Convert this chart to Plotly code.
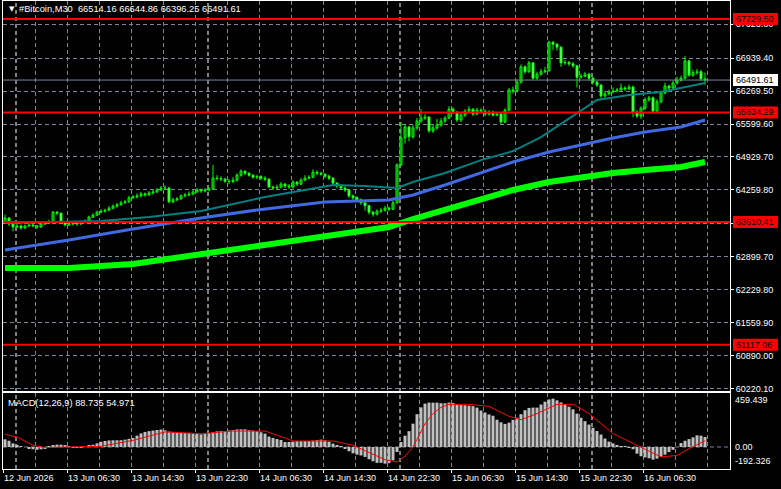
import plotly.graph_objects as go

# ---------------- data ----------------
OPEN = [63620,63690,63570,63510,63530,63490,63530,63550,63530,63510,
        63570,63590,63610,63810,63790,63610,63550,63570,63590,63570,
        63610,63630,63710,63750,63810,63830,63850,63890,63930,63960,
        64000,64020,64100,64120,64140,64180,64160,64200,64220,64260,
        64300,64300,64020,64060,64080,64140,64160,64180,64220,64260,
        64240,64260,64280,64500,64490,64480,64440,64430,64460,64560,
        64640,64600,64560,64520,64530,64500,64480,64320,64300,64320,
        64380,64340,64320,64420,64380,64460,64500,64520,64620,64600,
        64580,64540,64500,64400,64340,64300,64260,64140,64100,64060,
        64000,63940,63810,63770,63830,63850,63890,63870,64000,64770,
        65320,65540,65340,65520,65660,65720,65740,65460,65520,65580,
        65660,65720,65900,65840,65680,65780,65860,65900,65800,65880,
        65860,65800,65840,65780,65800,65640,65880,66290,66270,66450,
        66760,66660,66840,66530,66610,66660,66680,67260,67220,67160,
        66840,66850,66820,66780,66550,66570,66610,66530,66450,66390,
        66170,66210,66250,66270,66290,66330,66310,66350,65840,65760,
        65920,66090,66130,65860,66050,66230,66370,66330,66430,66490,
        66530,66880,66590,66640,66660,66514.16]
HIGH = [63760,63710,63600,63570,63560,63560,63590,63580,63550,63600,
        63620,63660,63830,63830,63800,63630,63600,63620,63610,63640,
        63660,63740,63790,63840,63870,63880,63930,63970,64000,64040,
        64060,64140,64160,64190,64220,64210,64240,64260,64300,64340,
        64350,64320,64100,64120,64170,64200,64230,64260,64300,64290,
        64300,64320,64770,64560,64540,64510,64480,64520,64600,64680,
        64660,64620,64580,64570,64560,64540,64500,64350,64370,64420,
        64400,64380,64460,64440,64500,64560,64560,64680,64660,64630,
        64600,64570,64520,64420,64370,64330,64280,64170,64140,64090,
        64020,63960,63830,63870,63900,63940,63920,64040,64800,65640,
        65600,65560,65580,65720,65900,65800,65760,65580,65700,65720,
        65760,65960,65940,65860,65820,65900,65960,65920,65930,65920,
        65900,65880,65870,65840,65820,65920,66330,66360,66500,66810,
        66790,66880,66860,66660,66720,66760,67290,67280,67240,67180,
        66900,66880,66860,66800,66620,66660,66640,66560,66480,66410,
        66260,66300,66340,66330,66420,66370,66400,66380,65880,65960,
        66140,66170,66160,66100,66280,66440,66400,66480,66560,66580,
        66980,66900,66700,66720,66700,66644.86]
LOW = [63580,63530,63420,63480,63450,63470,63510,63500,63470,63490,
       63550,63570,63590,63750,63580,63520,63530,63540,63530,63550,
       63590,63610,63690,63730,63790,63800,63830,63870,63900,63940,
       63980,64000,64080,64090,64110,64120,64140,64170,64200,64240,
       64270,63990,63990,64030,64060,64110,64130,64150,64200,64200,
       64210,64230,64260,64450,64440,64400,64380,64400,64430,64530,
       64560,64530,64490,64480,64460,64440,64300,64260,64270,64290,
       64300,64280,64290,64340,64360,64440,64480,64500,64560,64550,
       64500,64460,64370,64300,64260,64220,64100,64060,64020,63960,
       63840,63760,63720,63740,63790,63820,63830,63850,63980,64740,
       65200,65250,65300,65480,65620,65680,65420,65420,65480,65540,
       65620,65700,65800,65640,65640,65740,65820,65760,65780,65820,
       65760,65770,65750,65760,65600,65620,65860,66220,66240,66420,
       66620,66640,66500,66500,66580,66630,66660,67100,67090,66760,
       66800,66780,66740,66340,66520,66550,66480,66400,66350,66120,
       66130,66180,66220,66240,66260,66270,66290,65740,65720,65700,
       65880,66050,65820,65840,66020,66200,66290,66300,66400,66460,
       66500,66560,66560,66600,66480,66396.25]
CLOSE = [63690,63570,63510,63530,63490,63530,63550,63530,63510,63570,
         63590,63610,63810,63790,63610,63550,63570,63590,63570,63610,
         63630,63710,63750,63810,63830,63850,63890,63930,63960,64000,
         64020,64100,64120,64140,64180,64160,64200,64220,64260,64300,
         64300,64020,64060,64080,64140,64160,64180,64220,64260,64240,
         64260,64280,64500,64490,64480,64440,64430,64460,64560,64640,
         64600,64560,64520,64530,64500,64480,64320,64300,64320,64380,
         64340,64320,64420,64380,64460,64500,64520,64620,64600,64580,
         64540,64500,64400,64340,64300,64260,64140,64100,64060,64000,
         63940,63810,63770,63830,63850,63890,63870,64000,64770,65320,
         65540,65340,65520,65660,65720,65740,65460,65520,65580,65660,
         65720,65900,65840,65680,65780,65860,65900,65800,65880,65860,
         65800,65840,65780,65800,65640,65880,66290,66270,66450,66760,
         66660,66840,66530,66610,66660,66680,67260,67220,67160,66840,
         66850,66820,66780,66550,66570,66610,66530,66450,66390,66170,
         66210,66250,66270,66290,66330,66310,66350,65840,65760,65920,
         66090,66130,65860,66050,66230,66370,66330,66430,66490,66530,
         66880,66590,66640,66660,66514.16,66491.61]

# moving averages (value at selected bars)
MA_FAST_BARS = [0, 24, 36, 49, 65, 82, 90, 98, 102, 110, 119, 127, 134, 143, 148, 156, 164, 175]
MA_FAST = [63590, 63630, 63712, 63834, 64118, 64361, 64341, 64300, 64423, 64605, 64867, 65050,
           65335, 65823, 66087, 66188, 66249, 66432]
MA_MID_BARS = [0, 16, 32, 49, 63, 80, 96, 102, 110, 119, 127, 136, 144, 152, 160, 169, 175]
MA_MID = [63042, 63245, 63468, 63691, 63854, 64016, 64057, 64158, 64361, 64605, 64828, 65031,
          65173, 65315, 65437, 65538, 65681]
MA_SLOW_BARS = [0, 16, 32, 49, 63, 80, 96, 102, 110, 119, 127, 136, 144, 152, 160, 169, 175]
MA_SLOW = [62676, 62676, 62758, 62960, 63143, 63346, 63509, 63671, 63854, 64057, 64260, 64422,
           64524, 64605, 64666, 64727, 64828]

MACD_HIST = [68,55,32,12,5,0,-10,-20,-24,-20,
             -12,5,16,21,20,9,2,-4,-8,-7,
             0,12,20,32,46,53,58,59,59,60,
             65,72,80,100,120,133,140,145,150,155,
             147,136,133,130,126,124,124,120,115,112,
             118,123,130,138,141,141,146,150,155,156,
             156,149,144,138,130,118,92,80,70,62,
             44,44,48,52,53,53,53,56,61,65,
             59,48,30,18,2,-15,-38,-56,-68,-75,
             -88,-108,-126,-140,-140,-147,-143,-118,-44,44,
             100,140,206,290,350,383,392,392,392,387,
             386,392,389,377,370,368,365,360,348,322,
             305,288,276,241,218,204,215,240,259,290,
             325,345,348,348,375,400,420,427,412,394,
             376,356,333,295,258,228,198,170,141,110,
             75,48,32,15,7,2,-5,-20,-59,-82,
             -92,-100,-112,-103,-86,-68,-45,-25,0,35,
             55,70,85,103,100,88.735]
SIGNAL_BARS = [0, 3, 7, 10, 16, 24, 32, 40, 49, 57, 65, 72, 82, 87, 95, 98, 100, 102, 105, 107,
               109, 111, 116, 121, 126, 129, 133, 138, 142, 146, 152, 159, 164, 168, 171, 175]
SIGNAL = [112, 88, 15, -6, 0, 6, 59, 133, 118, 141, 141, 53, 53, 15, -112, -133, -80, 0, 206, 295,
          350, 377, 377, 359, 271, 241, 295, 377, 377, 295, 118, 0, -88, -74, -15, 54.971]

LEVELS = [67729.50, 65834.29, 63610.41, 61117.06]
LAST_PRICE = 66491.61
PRICE_TICKS = [60220.10, 60890.00, 61559.90, 62229.80, 62899.70, 63579.75, 64259.80,
               64929.70, 65599.60, 66269.50, 66939.40, 67623.80]
PRICE_TICK_TEXT = ["60220.10", "60890.00", "61559.90", "62229.80", "62899.70", "", "64259.80",
                   "64929.70", "65599.60", "66269.50", "66939.40", "67623.80"]
MACD_TICKS = [459.439, 0.0, -192.326]
MACD_TICK_TEXT = ["459.439", "0.00", "-192.326"]
X_LABEL_BARS = [0, 16, 32, 48, 64, 80, 96, 112, 128, 144, 160]
X_LABELS = ["12 Jun 2026", "13 Jun 06:30", "13 Jun 14:30", "13 Jun 22:30", "14 Jun 06:30",
            "14 Jun 14:30", "14 Jun 22:30", "15 Jun 06:30", "15 Jun 14:30", "15 Jun 22:30",
            "16 Jun 06:30"]
DAY_START_BARS = [3, 51, 99, 147]
TITLE = "#Bitcoin,M30  66514.16 66644.86 66396.25 66491.61"
MACD_TITLE = "MACD(12,26,9) 88.735 54.971"

# ---------------- styling ----------------
FONT = "Liberation Sans, Arial, sans-serif"
GRID = "rgb(119,136,153)"
DASH = "4px,3px"
LIME = "#00FF00"
bars = list(range(len(CLOSE)))

fig = go.Figure()

# candle wicks
wx, wy = [], []
for i, (h, l) in enumerate(zip(HIGH, LOW)):
    wx += [i, i, None]
    wy += [l, h, None]
fig.add_trace(go.Scatter(x=wx, y=wy, mode="lines", line=dict(color=LIME, width=1),
                         xaxis="x", yaxis="y", hoverinfo="skip", connectgaps=False))
# candle bodies (bull = black body, bear = white body, lime outline)
body_base = [min(o, c) for o, c in zip(OPEN, CLOSE)]
body_len = [abs(c - o) for o, c in zip(OPEN, CLOSE)]
body_fill = ["#000000" if c >= o else "#FFFFFF" for o, c in zip(OPEN, CLOSE)]
fig.add_trace(go.Bar(x=bars, y=body_len, base=body_base, width=0.5,
                     marker=dict(color=body_fill, line=dict(color=LIME, width=1)),
                     xaxis="x", yaxis="y", hoverinfo="skip"))

fig.add_trace(go.Scatter(x=MA_SLOW_BARS, y=MA_SLOW, mode="lines",
                         line=dict(color=LIME, width=6), xaxis="x", yaxis="y", hoverinfo="skip"))
fig.add_trace(go.Scatter(x=MA_MID_BARS, y=MA_MID, mode="lines",
                         line=dict(color="#4169E1", width=3), xaxis="x", yaxis="y", hoverinfo="skip"))
fig.add_trace(go.Scatter(x=MA_FAST_BARS, y=MA_FAST, mode="lines",
                         line=dict(color="#008080", width=2), xaxis="x", yaxis="y", hoverinfo="skip"))
fig.add_trace(go.Bar(x=bars, y=MACD_HIST, marker=dict(color="#C0C0C0", line=dict(width=0)),
                     width=0.75, xaxis="x2", yaxis="y2", hoverinfo="skip"))
fig.add_trace(go.Scatter(x=SIGNAL_BARS, y=SIGNAL, mode="lines", line=dict(color="#FF0000", width=1),
                         xaxis="x2", yaxis="y2", hoverinfo="skip"))

X_RANGE = [-0.5, 181.25]
major = [b - 0.5 for b in X_LABEL_BARS]
common_x = dict(range=X_RANGE, tickvals=major, showgrid=True, gridcolor=GRID, griddash=DASH,
                gridwidth=1, minor=dict(tick0=-0.5, dtick=8, showgrid=True, gridcolor=GRID,
                                        griddash=DASH, ticks=""),
                showline=True, linecolor="white", linewidth=1, mirror=True, zeroline=False)

fig.update_layout(
    width=781, height=489, margin=dict(l=3, r=51, t=1, b=20),
    paper_bgcolor="#000000", plot_bgcolor="rgba(0,0,0,0)", showlegend=False,
    barmode="overlay",
    xaxis=dict(domain=[0, 1], anchor="y", showticklabels=False, ticks="", **common_x),
    xaxis2=dict(domain=[0, 1], anchor="y2", matches="x", ticktext=X_LABELS, ticks="outside",
                ticklen=3, tickcolor="white", ticklabelposition="outside right",
                tickfont=dict(family=FONT, size=9, color="white"), **common_x),
    yaxis=dict(domain=[0.1667, 1], anchor="x", range=[60179.5, 68096.5], side="right",
               tickvals=PRICE_TICKS, ticktext=PRICE_TICK_TEXT,
               showgrid=True, gridcolor=GRID, griddash=DASH, gridwidth=1,
               ticks="outside", ticklen=3, tickcolor="white",
               tickfont=dict(family=FONT, size=9, color="white"),
               showline=True, linecolor="white", linewidth=1, mirror=True, zeroline=False),
    yaxis2=dict(domain=[0, 0.1624], anchor="x2", range=[-194.4, 477], side="right",
                tickvals=MACD_TICKS, showticklabels=False, ticks="", showgrid=False,
                showline=True, linecolor="white", linewidth=1, mirror=True, zeroline=False),
)

shapes = []
# day separators
for b in DAY_START_BARS:
    shapes.append(dict(type="line", xref="x", yref="paper", x0=b - 0.25, x1=b - 0.25, y0=0, y1=1,
                       line=dict(color="white", width=1, dash=DASH), layer="below"))
# MACD zero line
shapes.append(dict(type="line", xref="paper", yref="y2", x0=0, x1=1, y0=0, y1=0,
                   line=dict(color=GRID, width=1, dash=DASH), layer="below"))
# last price line
shapes.append(dict(type="line", xref="paper", yref="y", x0=0, x1=1, y0=LAST_PRICE, y1=LAST_PRICE,
                   line=dict(color="rgb(119,136,153)", width=1), layer="above"))
# horizontal levels
for lv in LEVELS:
    shapes.append(dict(type="line", xref="paper", yref="y", x0=0, x1=1, y0=lv, y1=lv,
                       line=dict(color="#FF0000", width=2), layer="above"))

annotations = []
def price_box(value, bg, fg):
    shapes.append(dict(type="rect", xref="paper", xsizemode="pixel", xanchor=1, x0=3, x1=48,
                       yref="y", ysizemode="pixel", yanchor=value, y0=-6, y1=6,
                       fillcolor=bg, line=dict(width=0), layer="above"))
    annotations.append(dict(xref="paper", yref="y", x=1, y=value, xanchor="left", yanchor="middle",
                            xshift=4, text=f"{value:.2f}", showarrow=False,
                            font=dict(family=FONT, size=9, color=fg)))

for lv in LEVELS:
    price_box(lv, "#FF0000", "#000000")
price_box(LAST_PRICE, "#FFFFFF", "#000000")

# MACD scale labels
for v, t, ys in zip(MACD_TICKS, MACD_TICK_TEXT, [-5, 0, 8]):
    annotations.append(dict(xref="paper", yref="y2", x=1, y=v, xanchor="left", yanchor="middle",
                            xshift=3, yshift=ys, text=t, showarrow=False,
                            font=dict(family=FONT, size=9, color="white")))

# titles
annotations.append(dict(xref="paper", yref="paper", x=0, y=1, xanchor="left", yanchor="middle",
                        xshift=4, yshift=-8, text="▼", showarrow=False,
                        font=dict(family="DejaVu Sans", size=7, color="white")))
annotations.append(dict(xref="paper", yref="paper", x=0, y=1, xanchor="left", yanchor="middle",
                        xshift=14, yshift=-8, text=TITLE.replace("  ", "&nbsp; "), showarrow=False,
                        font=dict(family=FONT, size=9.3, color="white")))
annotations.append(dict(xref="paper", yref="paper", x=0, y=0.1624, xanchor="left", yanchor="middle",
                        xshift=3, yshift=-10, text=MACD_TITLE, showarrow=False,
                        font=dict(family=FONT, size=9.3, color="white")))

fig.update_layout(shapes=shapes, annotations=annotations)
fig.write_html("out.html")
